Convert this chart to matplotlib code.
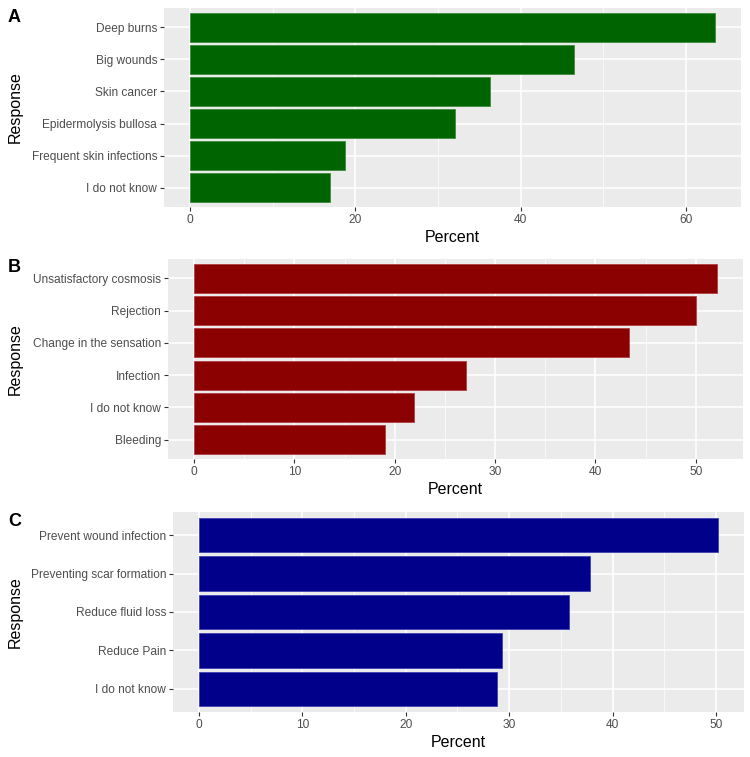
import matplotlib
matplotlib.use("Agg")
import matplotlib.pyplot as plt
from matplotlib.ticker import MultipleLocator

plt.rcParams['font.family'] = ['Liberation Sans', 'DejaVu Sans']

# Panel A
a_labels = ["Deep burns", "Big wounds", "Skin cancer", "Epidermolysis bullosa",
            "Frequent skin infections", "I do not know"]
a_values = [63.5, 46.5, 36.3, 32.0, 18.7, 16.9]

# Panel B
b_labels = ["Unsatisfactory cosmosis", "Rejection", "Change in the sensation",
            "Infection", "I do not know", "Bleeding"]
b_values = [52.1, 50.0, 43.3, 27.1, 21.9, 19.0]

# Panel C
c_labels = ["Prevent wound infection", "Preventing scar formation",
            "Reduce fluid loss", "Reduce Pain", "I do not know"]
c_values = [50.2, 37.8, 35.8, 29.3, 28.85]

W, H = 750, 757
fig = plt.figure(figsize=(W / 100, H / 100), dpi=100)

def px_axes(left, top, right, bottom):
    return fig.add_axes([left / W, 1 - bottom / H, (right - left) / W, (bottom - top) / H])

panels = [
    ("A", a_labels, a_values, "#006400", "#3c8c3c", (164, 8, 741, 207), 20, 10, 18),
    ("B", b_labels, b_values, "#8B0000", "#b04040", (168, 259, 743, 459), 10, 5, 267),
    ("C", c_labels, c_values, "#00008B", "#4040b0", (173, 512, 744, 712), 10, 5, 521),
]

for letter, labels, values, color, edge, box, major, minor, ly in panels:
    ax = px_axes(*box)
    ax.set_facecolor("#EBEBEB")
    n = len(labels)
    pos = list(range(n))[::-1]
    ax.barh(pos, values, height=0.9, color=color, edgecolor=edge, linewidth=0.6, zorder=3)
    vmax = max(values)
    ax.set_xlim(-0.05 * vmax, vmax * 1.05)
    ax.set_ylim(-0.6, n - 0.4)
    ax.set_yticks(pos)
    ax.set_yticklabels(labels)
    ax.xaxis.set_major_locator(MultipleLocator(major))
    ax.xaxis.set_minor_locator(MultipleLocator(minor))
    ax.grid(which="major", color="white", linewidth=1.1, zorder=0)
    ax.grid(which="minor", axis="x", color="white", linewidth=0.5, zorder=0)
    ax.set_axisbelow(True)
    for s in ax.spines.values():
        s.set_visible(False)
    ax.tick_params(axis="both", which="major", length=3, width=0.8, color="#333333",
                   labelcolor="#4D4D4D", labelsize=8.6, pad=2)
    ax.tick_params(axis="x", which="minor", length=0)
    ax.set_xlabel("Percent", fontsize=11.5, color="black", labelpad=3)
    ax.set_ylabel("Response", fontsize=11.5, color="black")
    ax.yaxis.set_label_coords((23 - box[0]) / (box[2] - box[0]), 0.5)
    fig.text(8 / W, 1 - ly / H, letter, fontsize=13, fontweight="bold", va="center", ha="left")

fig.savefig("out.png", dpi=100)
